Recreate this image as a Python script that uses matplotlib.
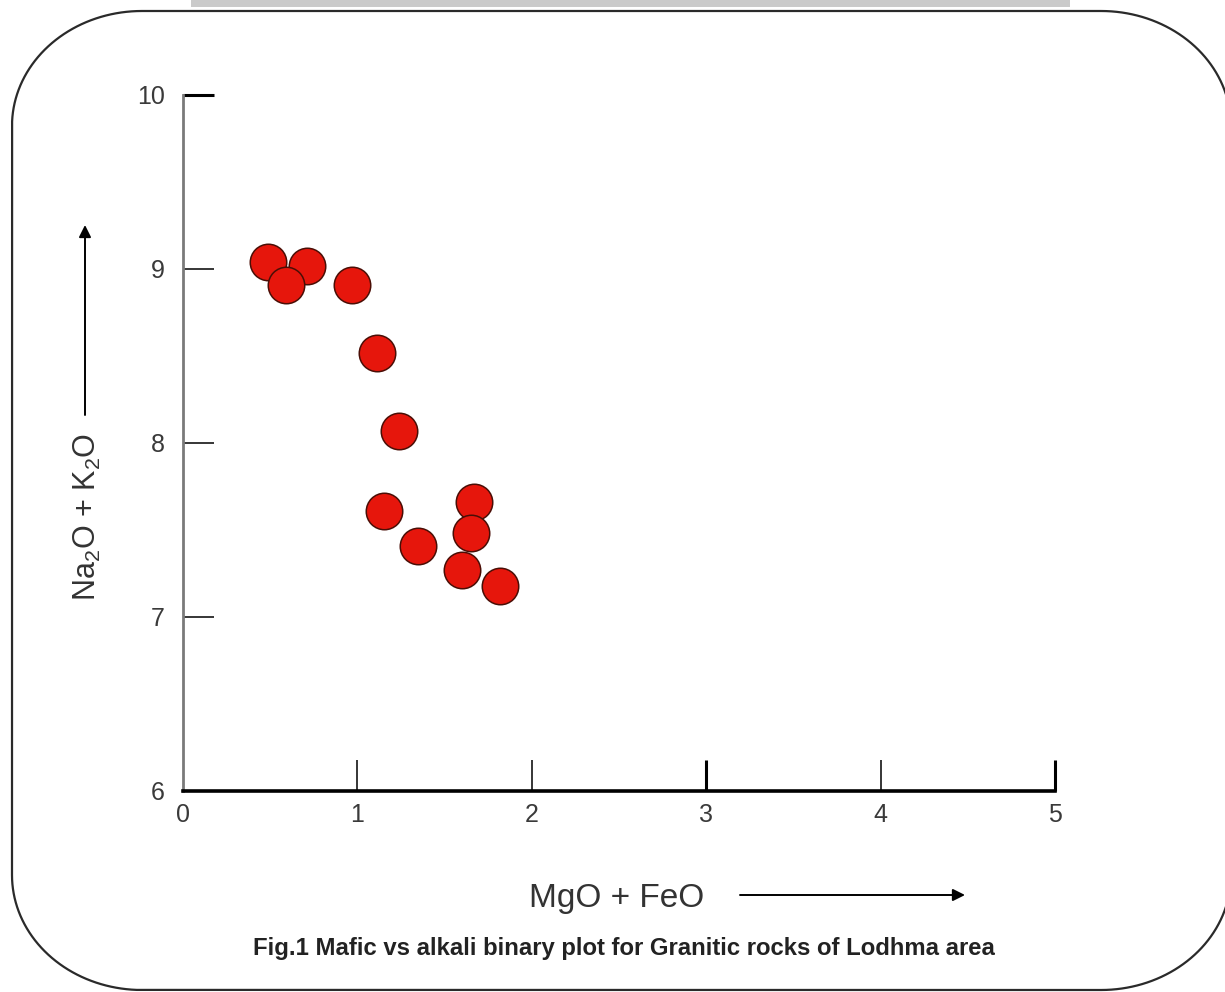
import numpy as np
import matplotlib
matplotlib.use("Agg")
import matplotlib.pyplot as plt
from matplotlib.patches import Rectangle, PathPatch
from matplotlib.path import Path

# Mafic (MgO + FeO) vs alkali (Na2O + K2O) contents, wt%
mafic = [0.49, 0.71, 0.59, 0.97, 1.11, 1.24, 1.15, 1.67, 1.65, 1.35, 1.60, 1.82]
alkali = [9.04, 9.02, 8.91, 8.91, 8.52, 8.07, 7.61, 7.66, 7.48, 7.41, 7.27, 7.18]
x_ticks = [0, 1, 2, 3, 4, 5]
y_ticks = [6, 7, 8, 9, 10]

x_title = "MgO + FeO"
y_title = r"Na$_2$O + K$_2$O"
caption = "Fig.1 Mafic vs alkali binary plot for Granitic rocks of Lodhma area"

plt.rcParams["font.family"] = ["Liberation Sans", "DejaVu Sans"]
plt.rcParams["mathtext.fontset"] = "custom"
plt.rcParams["mathtext.rm"] = "Liberation Sans"
plt.rcParams["mathtext.default"] = "regular"

W, H = 1225, 992
fig = plt.figure(figsize=(W / 100, H / 100), dpi=100)
fig.patch.set_facecolor("white")


def rounded_frame(x0, y0, x1, y1, rx, ry, n=40):
    """Closed outline of a rectangle with elliptical corners (y grows downward)."""
    pts = []
    corners = [((x1 - rx, y0 + ry), -90, 0),    # top-right
               ((x1 - rx, y1 - ry), 0, 90),     # bottom-right
               ((x0 + rx, y1 - ry), 90, 180),   # bottom-left
               ((x0 + rx, y0 + ry), 180, 270)]  # top-left
    for (cx, cy), a0, a1 in corners:
        t = np.radians(np.linspace(a0, a1, n))
        pts.extend(zip(cx + rx * np.cos(t), cy + ry * np.sin(t)))
    pts.append(pts[0])
    return Path(pts)


# Background layer in pixel units: page frame, header strip, titles, arrows
frame = fig.add_axes([0, 0, 1, 1])
frame.set_xlim(0, W)
frame.set_ylim(H, 0)
frame.axis("off")
frame.add_patch(Rectangle((191, 0), 879, 7, color="#cacaca", lw=0))
frame.add_patch(PathPatch(rounded_frame(12, 11, 1231, 990, 130, 115),
                          fill=False, ec="#2a2a2a", lw=1.6))

frame.text(87, 517, y_title, rotation=90, ha="center", va="center",
           fontsize=22, color="#333333")
frame.annotate("", xy=(85, 225), xytext=(85, 415),
               arrowprops=dict(arrowstyle="-|>", color="black", lw=1.4,
                               mutation_scale=18, shrinkA=0, shrinkB=0))
frame.text(617, 898, x_title, ha="center", va="center",
           fontsize=24, color="#333333")
frame.annotate("", xy=(965, 895), xytext=(740, 895),
               arrowprops=dict(arrowstyle="-|>", color="black", lw=1.4,
                               mutation_scale=18, shrinkA=0, shrinkB=0))
cap = frame.text(624, 948, caption, ha="center", va="center",
                 fontsize=15, fontweight="bold", color="#222222")

# Plot area
ax = fig.add_axes([183 / W, (H - 791) / H, (1055 - 183) / W, (791 - 95) / H])
ax.patch.set_visible(False)
ax.set_xlim(0, 5)
ax.set_ylim(6, 10)
ax.scatter(mafic, alkali, s=690, c="#e6160c", edgecolors="#4a0e06",
           linewidths=1.1, zorder=3, clip_on=False)

for side in ("top", "right"):
    ax.spines[side].set_visible(False)
ax.spines["left"].set_color("#7a7a7a")
ax.spines["left"].set_linewidth(2.0)
ax.spines["bottom"].set_color("black")
ax.spines["bottom"].set_linewidth(2.6)

ax.set_xticks(x_ticks)
ax.set_yticks(y_ticks)
ax.tick_params(axis="both", direction="in", length=22, width=1.1,
               labelsize=18, labelcolor="#3a3a3a")
ax.tick_params(axis="y", pad=13)
ax.tick_params(axis="x", pad=9)

for val, tick in zip(y_ticks, ax.yaxis.get_major_ticks()):
    tick.tick1line.set_color("black")
    tick.tick1line.set_markeredgewidth(2.2 if val == 10 else 1.1)
    if val == 6:
        tick.tick1line.set_visible(False)
for val, tick in zip(x_ticks, ax.xaxis.get_major_ticks()):
    if val in (3, 5):
        tick.tick1line.set_color("black")
        tick.tick1line.set_markeredgewidth(2.2)
    else:
        tick.tick1line.set_color("#666666")
        tick.tick1line.set_markeredgewidth(1.1)
    if val == 0:
        tick.tick1line.set_visible(False)

# Fit the caption to the width of the text block
fig.canvas.draw()
bb = cap.get_window_extent()
cap.set_fontsize(15 * 745 / bb.width)

fig.savefig("out.png", dpi=100, facecolor="white")
